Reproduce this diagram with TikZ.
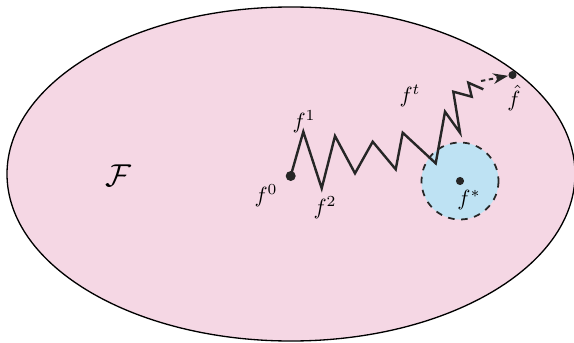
\documentclass[tikz,border=0pt]{standalone}
\usepackage{amsmath}
\usetikzlibrary{arrows.meta}
\begin{document}
\begin{tikzpicture}[
    x=0.16mm, y=-0.16mm,
    >={Stealth[length=2.4mm, width=1.7mm]},
    % Core styles
    space_fill/.style={draw=black, line width=0.6pt, fill=pink_bg},
    opt_ball/.style={draw=black!85, line width=0.8pt, dashed, fill=blue_bg},
    dot/.style={circle, fill=black!85, inner sep=0pt, minimum size=1.6mm},
    iter_path/.style={line width=1.1pt, draw=black!85, line join=miter},
    lbl/.style={inner sep=1pt}
  ]
  \definecolor{pink_bg}{RGB}{245,215,228}
  \definecolor{blue_bg}{RGB}{190,226,243}

  \useasboundingbox (0, 0) rectangle (574, 342);

  % ---------------------------------------------------------
  % FUNCTION SPACE
  % ---------------------------------------------------------
  \draw[space_fill] (291, 174) ellipse [x radius=284, y radius=167];
  \node[lbl] (space) at (118, 176) {\Large $\mathcal{F}$};

  % optimal ball around f*
  \draw[opt_ball] (460, 181) circle [radius=38.5];
  \node[dot, minimum size=1.3mm] (fstar) at (460, 181) {};
  \node[lbl] at (469, 200) {$f^{*}$};

  % ---------------------------------------------------------
  % ITERATES
  % ---------------------------------------------------------
  \node[dot] (f0) at (290.7, 176) {};
  \coordinate (f1) at (303.3, 131.7);
  \coordinate (f2) at (321.7, 188.3);
  \coordinate (ft) at (483.3, 89.3);
  \coordinate (fgo) at (481, 81);
  \node[dot, minimum size=1.3mm] (fhat) at (512.5, 75) {};

  \draw[iter_path] (f0.center) -- (f1) -- (f2)
    -- (335, 136) -- (355, 173.3) -- (372.7, 141.7) -- (395.7, 169.3)
    -- (402.7, 132.7) -- (435.7, 163.3) -- (445, 111.7) -- (460, 132.7)
    -- (453.3, 91.7) -- (471.7, 96.7) -- (468.3, 82.7) -- (ft);

  % extrapolated step to the estimate
  \draw[->, dash pattern=on 2pt off 1.6pt, line width=0.9pt, draw=black!85] (fgo) -- (fhat);

  % labels
  \node[lbl] at (266, 196) {$f^{0}$};
  \node[lbl] at (304, 122) {$f^{1}$};
  \node[lbl] at (325, 208) {$f^{2}$};
  \node[lbl] at (410, 96) {$f^{t}$};
  \node[lbl] at (514, 98) {$\hat{f}$};

\end{tikzpicture}
\end{document}
